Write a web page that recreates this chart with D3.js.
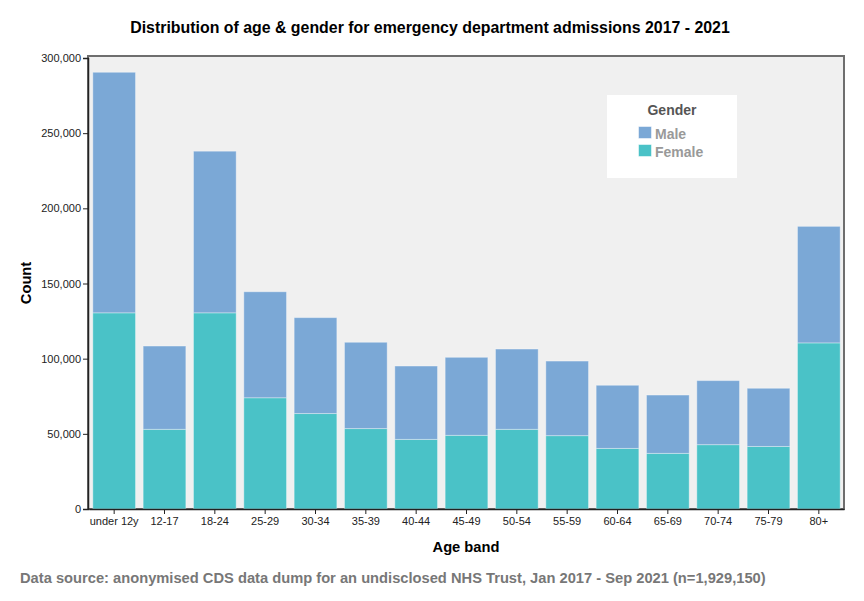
<!DOCTYPE html>
<html><head><meta charset="utf-8">
<script src="https://cdn.jsdelivr.net/npm/d3@7"></script>
<style>body{margin:0;background:#fff;} text{font-family:"Liberation Sans",Arial,sans-serif;}</style>
</head><body>
<svg id="chart" width="864" height="601"></svg>
<script>
const categories = ["under 12y","12-17","18-24","25-29","30-34","35-39","40-44","45-49","50-54","55-59","60-64","65-69","70-74","75-79","80+"];
const female = [130500, 53000, 130500, 74000, 63500, 53500, 46300, 49000, 53000, 48800, 40300, 37000, 42800, 41600, 110500];
const male   = [160000, 55400, 107500, 70500, 63800, 57400, 48800, 51900, 53400, 49600, 42000, 38800, 42600, 38700, 77500];
const yTicks = [0, 50000, 100000, 150000, 200000, 250000, 300000];
const seriesNames = ["Male","Female"];
const colors = {Male:"#7BA8D6", Female:"#4AC2C7"};

const svg = d3.select("#chart");
const L = 88, R = 844, T = 57, B = 509;

const x = d3.scaleBand().domain(categories).range([L+1, R]).paddingInner(0.152).paddingOuter(0.076);
const y = d3.scaleLinear().domain([0, 300000]).range([B, T+1]);

// plot background + frame
svg.append("rect").attr("x", L).attr("y", T-1).attr("width", R-L).attr("height", B-T+1)
  .attr("fill", "#F0F0F0").attr("stroke", "#6E6E6E").attr("stroke-width", 2);

const data = categories.map((c,i)=>({cat:c, Female:female[i], Male:male[i]}));
const stack = d3.stack().keys(["Female","Male"])(data);

svg.append("g").selectAll("g").data(stack).join("g")
  .attr("fill", d=>colors[d.key])
  .selectAll("rect").data(d=>d).join("rect")
  .attr("x", d=>x(d.data.cat))
  .attr("y", d=>y(d[1]))
  .attr("width", x.bandwidth())
  .attr("height", d=>y(d[0])-y(d[1]))
  .attr("stroke", "rgba(255,255,255,0.35)").attr("stroke-width", 1);

// axes
const yAxis = d3.axisLeft(y).tickValues(yTicks).tickSize(5).tickPadding(2).tickFormat(d3.format(","));
const gy = svg.append("g").attr("transform", `translate(${L},0)`).call(yAxis);
gy.select(".domain").attr("stroke", "#222").attr("stroke-width", 1.5);
gy.selectAll(".tick line").attr("stroke", "#222");
gy.selectAll(".tick text").attr("font-size", 11).attr("fill", "#222").attr("font-family", '"Liberation Sans",Arial,sans-serif');

const xAxis = d3.axisBottom(x).tickSize(5).tickPadding(3).tickSizeOuter(0);
const gx = svg.append("g").attr("transform", `translate(0,${B})`).call(xAxis);
gx.select(".domain").attr("stroke", "#222").attr("stroke-width", 1.5);
gx.selectAll(".tick line").attr("stroke", "#222");
gx.selectAll(".tick text").attr("font-size", 11).attr("fill", "#222").attr("font-family", '"Liberation Sans",Arial,sans-serif');

// titles
svg.append("text").attr("x", 430).attr("y", 33).attr("text-anchor", "middle")
  .attr("font-size", 15.9).attr("font-weight", "bold").attr("fill", "#000")
  .text("Distribution of age & gender for emergency department admissions 2017 - 2021");
svg.append("text").attr("transform", "translate(31,283) rotate(-90)").attr("text-anchor", "middle")
  .attr("font-size", 14.7).attr("font-weight", "bold").attr("fill", "#000").text("Count");
svg.append("text").attr("x", 466).attr("y", 552).attr("text-anchor", "middle")
  .attr("font-size", 14.7).attr("font-weight", "bold").attr("fill", "#000").text("Age band");
svg.append("text").attr("x", 20).attr("y", 583)
  .attr("font-size", 14.7).attr("font-weight", "bold").attr("fill", "#777")
  .text("Data source: anonymised CDS data dump for an undisclosed NHS Trust, Jan 2017 - Sep 2021 (n=1,929,150)");

// legend
const lg = svg.append("g");
lg.append("rect").attr("x", 607).attr("y", 95).attr("width", 130).attr("height", 83).attr("fill", "#fff");
lg.append("text").attr("x", 672).attr("y", 115).attr("text-anchor", "middle")
  .attr("font-size", 14).attr("font-weight", "bold").attr("fill", "#555").text("Gender");
seriesNames.forEach((s,i)=>{
  lg.append("rect").attr("x", 638.5).attr("y", 126.5 + i*18).attr("width", 13).attr("height", 12)
    .attr("fill", colors[s]).attr("stroke", "rgba(255,255,255,0.5)");
  lg.append("text").attr("x", 655).attr("y", 139 + i*18)
    .attr("font-size", 14).attr("font-weight", "bold").attr("fill", "#999").text(s);
});
</script>
</body></html>
